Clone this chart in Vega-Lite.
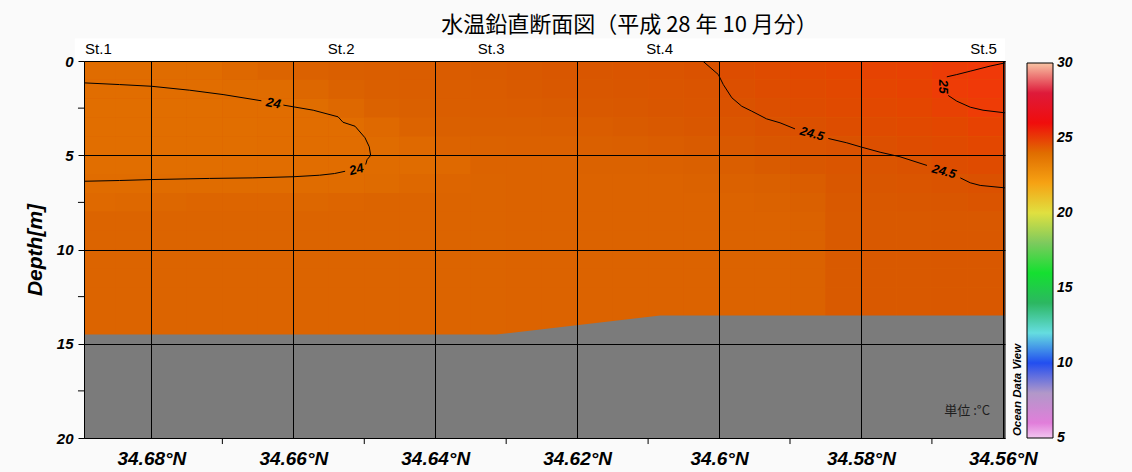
{
"$schema": "https://vega.github.io/schema/vega-lite/v6.json",
"width": 921, "height": 377,
"autosize": {"type": "none"},
"padding": {"left": 84, "top": 61, "right": 127, "bottom": 34},
"background": "#fafafa",
"title": {"text": "水温鉛直断面図（平成 28 年 10 月分）", "font": "Noto Sans CJK JP", "fontSize": 22, "fontWeight": "normal", "color": "#000", "anchor": "middle", "frame": "group", "dx": 85, "dy": 22, "offset": 6.5, "baseline": "alphabetic"},
"config": {"view": {"stroke": null}},
"layer": [
{"data": {"values": [{"lat":34.6895,"d":14.51},{"lat":34.6314,"d":14.51},{"lat":34.6083,"d":13.5},{"lat":34.5597,"d":13.5}]},
 "mark": {"type": "area", "color": "#7b7b7b", "clip": true, "opacity": 0},
 "encoding": {
  "x": {"field": "lat", "type": "quantitative", "title": null, "scale": {"domain": [34.5597, 34.6895], "reverse": true, "nice": false, "zero": false},
        "axis": {"values": [34.56,34.58,34.6,34.62,34.64,34.66,34.68], "title": null,
                 "grid": true, "gridColor": "#000", "gridWidth": 1, "gridOpacity": 1,
                 "ticks": false,
                 "labelExpr": "format(datum.value,'.2~f')+'°N'",
                 "labelFont": "Liberation Sans", "labelFontSize": 19, "labelFontStyle": "italic", "labelFontWeight": "bold", "labelColor": "#000",
                 "labelPadding": 11, "labelOverlap": false, "labelFlush": false, "domain": true, "domainColor": "#000", "domainWidth": 1, "zindex": 1}},
  "y": {"field": "d", "type": "quantitative", "title": "Depth[m]", "scale": {"domain": [0, 20], "reverse": true, "nice": false, "zero": false},
        "axis": {"values": [0,5,10,15,20], "title": "Depth[m]",
                 "titleFont": "Liberation Sans", "titleFontSize": 21, "titleFontStyle": "italic", "titleFontWeight": "bold", "titleColor": "#000", "titlePadding": 11,
                 "grid": true, "gridColor": "#000", "gridWidth": 1, "gridOpacity": 1,
                 "ticks": true, "tickColor": "#000", "tickSize": 6, "tickWidth": 1,
                 "labelFont": "Liberation Sans", "labelFontSize": 15, "labelFontStyle": "italic", "labelFontWeight": "bold", "labelColor": "#000",
                 "labelPadding": 5, "labelOverlap": false, "labelFlush": false, "domain": true, "domainColor": "#000", "domainWidth": 1, "zindex": 1}},
  "y2": {"datum": 20}}},
{"data": {"values": [{}]},
 "mark": {"type": "rect", "color": "#ffffff"},
 "encoding": {
  "x": {"datum": 34.6908, "type": "quantitative", "scale": {"domain": [34.5597, 34.6895], "reverse": true, "nice": false, "zero": false}},
  "x2": {"datum": 34.5597},
  "y": {"datum": -1.2, "type": "quantitative", "scale": {"domain": [0, 20], "reverse": true, "nice": false, "zero": false}},
  "y2": {"datum": 0}}},
{"data": {"values": [{}]},
 "mark": {"type": "rect", "color": "#dc6200", "clip": true},
 "encoding": {
  "x": {"datum": 34.6895, "type": "quantitative", "scale": {"domain": [34.5597, 34.6895], "reverse": true, "nice": false, "zero": false}},
  "x2": {"datum": 34.5597},
  "y": {"datum": 0, "type": "quantitative", "scale": {"domain": [0, 20], "reverse": true, "nice": false, "zero": false}},
  "y2": {"datum": 15}}},
{"data": {"values": [
{"lat":34.6875,"d":0.5,"t":24.02},{"lat":34.6875,"d":1.5,"t":23.97},{"lat":34.6875,"d":2.5,"t":23.94},{"lat":34.6875,"d":3.5,"t":23.93},{"lat":34.6875,"d":4.5,"t":23.93},{"lat":34.6875,"d":5.5,"t":23.94},{"lat":34.6875,"d":6.5,"t":24.02},{"lat":34.6875,"d":7.5,"t":24.06},{"lat":34.6875,"d":8.5,"t":24.1},{"lat":34.6875,"d":9.5,"t":24.1},{"lat":34.6875,"d":10.5,"t":24.1},{"lat":34.6875,"d":11.5,"t":24.1},{"lat":34.6875,"d":12.5,"t":24.1},{"lat":34.6875,"d":13.5,"t":24.1},{"lat":34.6875,"d":14.5,"t":24.1},
{"lat":34.6825,"d":0.5,"t":24.02},{"lat":34.6825,"d":1.5,"t":23.97},{"lat":34.6825,"d":2.5,"t":23.94},{"lat":34.6825,"d":3.5,"t":23.93},{"lat":34.6825,"d":4.5,"t":23.93},{"lat":34.6825,"d":5.5,"t":23.94},{"lat":34.6825,"d":6.5,"t":24.02},{"lat":34.6825,"d":7.5,"t":24.07},{"lat":34.6825,"d":8.5,"t":24.1},{"lat":34.6825,"d":9.5,"t":24.1},{"lat":34.6825,"d":10.5,"t":24.1},{"lat":34.6825,"d":11.5,"t":24.1},{"lat":34.6825,"d":12.5,"t":24.1},{"lat":34.6825,"d":13.5,"t":24.1},{"lat":34.6825,"d":14.5,"t":24.1},
{"lat":34.6775,"d":0.5,"t":24.02},{"lat":34.6775,"d":1.5,"t":23.97},{"lat":34.6775,"d":2.5,"t":23.94},{"lat":34.6775,"d":3.5,"t":23.93},{"lat":34.6775,"d":4.5,"t":23.93},{"lat":34.6775,"d":5.5,"t":23.94},{"lat":34.6775,"d":6.5,"t":24.02},{"lat":34.6775,"d":7.5,"t":24.08},{"lat":34.6775,"d":8.5,"t":24.1},{"lat":34.6775,"d":9.5,"t":24.1},{"lat":34.6775,"d":10.5,"t":24.1},{"lat":34.6775,"d":11.5,"t":24.1},{"lat":34.6775,"d":12.5,"t":24.1},{"lat":34.6775,"d":13.5,"t":24.1},{"lat":34.6775,"d":14.5,"t":24.1},
{"lat":34.6725,"d":0.5,"t":24.03},{"lat":34.6725,"d":1.5,"t":23.98},{"lat":34.6725,"d":2.5,"t":23.95},{"lat":34.6725,"d":3.5,"t":23.94},{"lat":34.6725,"d":4.5,"t":23.94},{"lat":34.6725,"d":5.5,"t":23.95},{"lat":34.6725,"d":6.5,"t":24.02},{"lat":34.6725,"d":7.5,"t":24.09},{"lat":34.6725,"d":8.5,"t":24.1},{"lat":34.6725,"d":9.5,"t":24.1},{"lat":34.6725,"d":10.5,"t":24.1},{"lat":34.6725,"d":11.5,"t":24.1},{"lat":34.6725,"d":12.5,"t":24.1},{"lat":34.6725,"d":13.5,"t":24.1},{"lat":34.6725,"d":14.5,"t":24.1},
{"lat":34.6675,"d":0.5,"t":24.07},{"lat":34.6675,"d":1.5,"t":24.02},{"lat":34.6675,"d":2.5,"t":23.97},{"lat":34.6675,"d":3.5,"t":23.95},{"lat":34.6675,"d":4.5,"t":23.95},{"lat":34.6675,"d":5.5,"t":23.96},{"lat":34.6675,"d":6.5,"t":24.03},{"lat":34.6675,"d":7.5,"t":24.09},{"lat":34.6675,"d":8.5,"t":24.1},{"lat":34.6675,"d":9.5,"t":24.1},{"lat":34.6675,"d":10.5,"t":24.1},{"lat":34.6675,"d":11.5,"t":24.1},{"lat":34.6675,"d":12.5,"t":24.1},{"lat":34.6675,"d":13.5,"t":24.1},{"lat":34.6675,"d":14.5,"t":24.1},
{"lat":34.6625,"d":0.5,"t":24.1},{"lat":34.6625,"d":1.5,"t":24.03},{"lat":34.6625,"d":2.5,"t":23.98},{"lat":34.6625,"d":3.5,"t":23.96},{"lat":34.6625,"d":4.5,"t":23.96},{"lat":34.6625,"d":5.5,"t":23.97},{"lat":34.6625,"d":6.5,"t":24.03},{"lat":34.6625,"d":7.5,"t":24.09},{"lat":34.6625,"d":8.5,"t":24.1},{"lat":34.6625,"d":9.5,"t":24.1},{"lat":34.6625,"d":10.5,"t":24.1},{"lat":34.6625,"d":11.5,"t":24.1},{"lat":34.6625,"d":12.5,"t":24.1},{"lat":34.6625,"d":13.5,"t":24.1},{"lat":34.6625,"d":14.5,"t":24.1},
{"lat":34.6575,"d":0.5,"t":24.18},{"lat":34.6575,"d":1.5,"t":24.08},{"lat":34.6575,"d":2.5,"t":24.01},{"lat":34.6575,"d":3.5,"t":23.98},{"lat":34.6575,"d":4.5,"t":23.97},{"lat":34.6575,"d":5.5,"t":23.97},{"lat":34.6575,"d":6.5,"t":24.03},{"lat":34.6575,"d":7.5,"t":24.08},{"lat":34.6575,"d":8.5,"t":24.1},{"lat":34.6575,"d":9.5,"t":24.1},{"lat":34.6575,"d":10.5,"t":24.1},{"lat":34.6575,"d":11.5,"t":24.1},{"lat":34.6575,"d":12.5,"t":24.1},{"lat":34.6575,"d":13.5,"t":24.1},{"lat":34.6575,"d":14.5,"t":24.1},
{"lat":34.6525,"d":0.5,"t":24.22},{"lat":34.6525,"d":1.5,"t":24.15},{"lat":34.6525,"d":2.5,"t":24.07},{"lat":34.6525,"d":3.5,"t":23.99},{"lat":34.6525,"d":4.5,"t":23.98},{"lat":34.6525,"d":5.5,"t":23.99},{"lat":34.6525,"d":6.5,"t":24.04},{"lat":34.6525,"d":7.5,"t":24.09},{"lat":34.6525,"d":8.5,"t":24.1},{"lat":34.6525,"d":9.5,"t":24.1},{"lat":34.6525,"d":10.5,"t":24.1},{"lat":34.6525,"d":11.5,"t":24.1},{"lat":34.6525,"d":12.5,"t":24.1},{"lat":34.6525,"d":13.5,"t":24.1},{"lat":34.6525,"d":14.5,"t":24.1},
{"lat":34.6475,"d":0.5,"t":24.25},{"lat":34.6475,"d":1.5,"t":24.22},{"lat":34.6475,"d":2.5,"t":24.14},{"lat":34.6475,"d":3.5,"t":24.06},{"lat":34.6475,"d":4.5,"t":24.02},{"lat":34.6475,"d":5.5,"t":24.02},{"lat":34.6475,"d":6.5,"t":24.05},{"lat":34.6475,"d":7.5,"t":24.1},{"lat":34.6475,"d":8.5,"t":24.1},{"lat":34.6475,"d":9.5,"t":24.1},{"lat":34.6475,"d":10.5,"t":24.1},{"lat":34.6475,"d":11.5,"t":24.1},{"lat":34.6475,"d":12.5,"t":24.1},{"lat":34.6475,"d":13.5,"t":24.1},{"lat":34.6475,"d":14.5,"t":24.1},
{"lat":34.6425,"d":0.5,"t":24.27},{"lat":34.6425,"d":1.5,"t":24.25},{"lat":34.6425,"d":2.5,"t":24.2},{"lat":34.6425,"d":3.5,"t":24.13},{"lat":34.6425,"d":4.5,"t":24.06},{"lat":34.6425,"d":5.5,"t":24.03},{"lat":34.6425,"d":6.5,"t":24.07},{"lat":34.6425,"d":7.5,"t":24.1},{"lat":34.6425,"d":8.5,"t":24.11},{"lat":34.6425,"d":9.5,"t":24.11},{"lat":34.6425,"d":10.5,"t":24.11},{"lat":34.6425,"d":11.5,"t":24.11},{"lat":34.6425,"d":12.5,"t":24.11},{"lat":34.6425,"d":13.5,"t":24.11},{"lat":34.6425,"d":14.5,"t":24.11},
{"lat":34.6375,"d":0.5,"t":24.28},{"lat":34.6375,"d":1.5,"t":24.27},{"lat":34.6375,"d":2.5,"t":24.24},{"lat":34.6375,"d":3.5,"t":24.2},{"lat":34.6375,"d":4.5,"t":24.12},{"lat":34.6375,"d":5.5,"t":24.06},{"lat":34.6375,"d":6.5,"t":24.09},{"lat":34.6375,"d":7.5,"t":24.11},{"lat":34.6375,"d":8.5,"t":24.11},{"lat":34.6375,"d":9.5,"t":24.11},{"lat":34.6375,"d":10.5,"t":24.11},{"lat":34.6375,"d":11.5,"t":24.11},{"lat":34.6375,"d":12.5,"t":24.11},{"lat":34.6375,"d":13.5,"t":24.11},{"lat":34.6375,"d":14.5,"t":24.11},
{"lat":34.6325,"d":0.5,"t":24.3},{"lat":34.6325,"d":1.5,"t":24.28},{"lat":34.6325,"d":2.5,"t":24.26},{"lat":34.6325,"d":3.5,"t":24.22},{"lat":34.6325,"d":4.5,"t":24.16},{"lat":34.6325,"d":5.5,"t":24.12},{"lat":34.6325,"d":6.5,"t":24.11},{"lat":34.6325,"d":7.5,"t":24.11},{"lat":34.6325,"d":8.5,"t":24.11},{"lat":34.6325,"d":9.5,"t":24.11},{"lat":34.6325,"d":10.5,"t":24.11},{"lat":34.6325,"d":11.5,"t":24.11},{"lat":34.6325,"d":12.5,"t":24.11},{"lat":34.6325,"d":13.5,"t":24.11},{"lat":34.6325,"d":14.5,"t":24.11},
{"lat":34.6275,"d":0.5,"t":24.35},{"lat":34.6275,"d":1.5,"t":24.33},{"lat":34.6275,"d":2.5,"t":24.28},{"lat":34.6275,"d":3.5,"t":24.23},{"lat":34.6275,"d":4.5,"t":24.17},{"lat":34.6275,"d":5.5,"t":24.13},{"lat":34.6275,"d":6.5,"t":24.12},{"lat":34.6275,"d":7.5,"t":24.12},{"lat":34.6275,"d":8.5,"t":24.12},{"lat":34.6275,"d":9.5,"t":24.12},{"lat":34.6275,"d":10.5,"t":24.12},{"lat":34.6275,"d":11.5,"t":24.12},{"lat":34.6275,"d":12.5,"t":24.12},{"lat":34.6275,"d":13.5,"t":24.12},{"lat":34.6275,"d":14.5,"t":24.12},
{"lat":34.6225,"d":0.5,"t":24.38},{"lat":34.6225,"d":1.5,"t":24.36},{"lat":34.6225,"d":2.5,"t":24.3},{"lat":34.6225,"d":3.5,"t":24.24},{"lat":34.6225,"d":4.5,"t":24.18},{"lat":34.6225,"d":5.5,"t":24.13},{"lat":34.6225,"d":6.5,"t":24.12},{"lat":34.6225,"d":7.5,"t":24.12},{"lat":34.6225,"d":8.5,"t":24.12},{"lat":34.6225,"d":9.5,"t":24.12},{"lat":34.6225,"d":10.5,"t":24.12},{"lat":34.6225,"d":11.5,"t":24.12},{"lat":34.6225,"d":12.5,"t":24.12},{"lat":34.6225,"d":13.5,"t":24.12},{"lat":34.6225,"d":14.5,"t":24.12},
{"lat":34.6175,"d":0.5,"t":24.4},{"lat":34.6175,"d":1.5,"t":24.38},{"lat":34.6175,"d":2.5,"t":24.34},{"lat":34.6175,"d":3.5,"t":24.27},{"lat":34.6175,"d":4.5,"t":24.2},{"lat":34.6175,"d":5.5,"t":24.14},{"lat":34.6175,"d":6.5,"t":24.12},{"lat":34.6175,"d":7.5,"t":24.12},{"lat":34.6175,"d":8.5,"t":24.12},{"lat":34.6175,"d":9.5,"t":24.12},{"lat":34.6175,"d":10.5,"t":24.12},{"lat":34.6175,"d":11.5,"t":24.12},{"lat":34.6175,"d":12.5,"t":24.12},{"lat":34.6175,"d":13.5,"t":24.12},{"lat":34.6175,"d":14.5,"t":24.12},
{"lat":34.6125,"d":0.5,"t":24.42},{"lat":34.6125,"d":1.5,"t":24.4},{"lat":34.6125,"d":2.5,"t":24.37},{"lat":34.6125,"d":3.5,"t":24.31},{"lat":34.6125,"d":4.5,"t":24.22},{"lat":34.6125,"d":5.5,"t":24.15},{"lat":34.6125,"d":6.5,"t":24.12},{"lat":34.6125,"d":7.5,"t":24.12},{"lat":34.6125,"d":8.5,"t":24.12},{"lat":34.6125,"d":9.5,"t":24.12},{"lat":34.6125,"d":10.5,"t":24.12},{"lat":34.6125,"d":11.5,"t":24.12},{"lat":34.6125,"d":12.5,"t":24.12},{"lat":34.6125,"d":13.5,"t":24.12},{"lat":34.6125,"d":14.5,"t":24.12},
{"lat":34.6075,"d":0.5,"t":24.45},{"lat":34.6075,"d":1.5,"t":24.42},{"lat":34.6075,"d":2.5,"t":24.4},{"lat":34.6075,"d":3.5,"t":24.35},{"lat":34.6075,"d":4.5,"t":24.26},{"lat":34.6075,"d":5.5,"t":24.17},{"lat":34.6075,"d":6.5,"t":24.13},{"lat":34.6075,"d":7.5,"t":24.12},{"lat":34.6075,"d":8.5,"t":24.12},{"lat":34.6075,"d":9.5,"t":24.12},{"lat":34.6075,"d":10.5,"t":24.12},{"lat":34.6075,"d":11.5,"t":24.12},{"lat":34.6075,"d":12.5,"t":24.12},{"lat":34.6075,"d":13.5,"t":24.12},{"lat":34.6075,"d":14.5,"t":24.12},
{"lat":34.6025,"d":0.5,"t":24.49},{"lat":34.6025,"d":1.5,"t":24.45},{"lat":34.6025,"d":2.5,"t":24.42},{"lat":34.6025,"d":3.5,"t":24.38},{"lat":34.6025,"d":4.5,"t":24.3},{"lat":34.6025,"d":5.5,"t":24.2},{"lat":34.6025,"d":6.5,"t":24.15},{"lat":34.6025,"d":7.5,"t":24.12},{"lat":34.6025,"d":8.5,"t":24.12},{"lat":34.6025,"d":9.5,"t":24.12},{"lat":34.6025,"d":10.5,"t":24.12},{"lat":34.6025,"d":11.5,"t":24.12},{"lat":34.6025,"d":12.5,"t":24.12},{"lat":34.6025,"d":13.5,"t":24.12},{"lat":34.6025,"d":14.5,"t":24.12},
{"lat":34.5975,"d":0.5,"t":24.58},{"lat":34.5975,"d":1.5,"t":24.54},{"lat":34.5975,"d":2.5,"t":24.48},{"lat":34.5975,"d":3.5,"t":24.42},{"lat":34.5975,"d":4.5,"t":24.35},{"lat":34.5975,"d":5.5,"t":24.25},{"lat":34.5975,"d":6.5,"t":24.17},{"lat":34.5975,"d":7.5,"t":24.13},{"lat":34.5975,"d":8.5,"t":24.12},{"lat":34.5975,"d":9.5,"t":24.12},{"lat":34.5975,"d":10.5,"t":24.12},{"lat":34.5975,"d":11.5,"t":24.12},{"lat":34.5975,"d":12.5,"t":24.12},{"lat":34.5975,"d":13.5,"t":24.12},{"lat":34.5975,"d":14.5,"t":24.12},
{"lat":34.5925,"d":0.5,"t":24.64},{"lat":34.5925,"d":1.5,"t":24.6},{"lat":34.5925,"d":2.5,"t":24.55},{"lat":34.5925,"d":3.5,"t":24.49},{"lat":34.5925,"d":4.5,"t":24.4},{"lat":34.5925,"d":5.5,"t":24.3},{"lat":34.5925,"d":6.5,"t":24.2},{"lat":34.5925,"d":7.5,"t":24.15},{"lat":34.5925,"d":8.5,"t":24.13},{"lat":34.5925,"d":9.5,"t":24.13},{"lat":34.5925,"d":10.5,"t":24.13},{"lat":34.5925,"d":11.5,"t":24.13},{"lat":34.5925,"d":12.5,"t":24.13},{"lat":34.5925,"d":13.5,"t":24.13},{"lat":34.5925,"d":14.5,"t":24.13},
{"lat":34.5875,"d":0.5,"t":24.72},{"lat":34.5875,"d":1.5,"t":24.67},{"lat":34.5875,"d":2.5,"t":24.6},{"lat":34.5875,"d":3.5,"t":24.52},{"lat":34.5875,"d":4.5,"t":24.45},{"lat":34.5875,"d":5.5,"t":24.38},{"lat":34.5875,"d":6.5,"t":24.26},{"lat":34.5875,"d":7.5,"t":24.2},{"lat":34.5875,"d":8.5,"t":24.15},{"lat":34.5875,"d":9.5,"t":24.15},{"lat":34.5875,"d":10.5,"t":24.15},{"lat":34.5875,"d":11.5,"t":24.15},{"lat":34.5875,"d":12.5,"t":24.15},{"lat":34.5875,"d":13.5,"t":24.15},{"lat":34.5875,"d":14.5,"t":24.15},
{"lat":34.5825,"d":0.5,"t":24.8},{"lat":34.5825,"d":1.5,"t":24.74},{"lat":34.5825,"d":2.5,"t":24.66},{"lat":34.5825,"d":3.5,"t":24.58},{"lat":34.5825,"d":4.5,"t":24.48},{"lat":34.5825,"d":5.5,"t":24.42},{"lat":34.5825,"d":6.5,"t":24.38},{"lat":34.5825,"d":7.5,"t":24.35},{"lat":34.5825,"d":8.5,"t":24.33},{"lat":34.5825,"d":9.5,"t":24.32},{"lat":34.5825,"d":10.5,"t":24.32},{"lat":34.5825,"d":11.5,"t":24.32},{"lat":34.5825,"d":12.5,"t":24.32},{"lat":34.5825,"d":13.5,"t":24.32},{"lat":34.5825,"d":14.5,"t":24.32},
{"lat":34.5775,"d":0.5,"t":24.86},{"lat":34.5775,"d":1.5,"t":24.82},{"lat":34.5775,"d":2.5,"t":24.74},{"lat":34.5775,"d":3.5,"t":24.64},{"lat":34.5775,"d":4.5,"t":24.53},{"lat":34.5775,"d":5.5,"t":24.45},{"lat":34.5775,"d":6.5,"t":24.4},{"lat":34.5775,"d":7.5,"t":24.36},{"lat":34.5775,"d":8.5,"t":24.34},{"lat":34.5775,"d":9.5,"t":24.34},{"lat":34.5775,"d":10.5,"t":24.34},{"lat":34.5775,"d":11.5,"t":24.34},{"lat":34.5775,"d":12.5,"t":24.34},{"lat":34.5775,"d":13.5,"t":24.34},{"lat":34.5775,"d":14.5,"t":24.34},
{"lat":34.5725,"d":0.5,"t":24.9},{"lat":34.5725,"d":1.5,"t":24.88},{"lat":34.5725,"d":2.5,"t":24.8},{"lat":34.5725,"d":3.5,"t":24.7},{"lat":34.5725,"d":4.5,"t":24.6},{"lat":34.5725,"d":5.5,"t":24.49},{"lat":34.5725,"d":6.5,"t":24.43},{"lat":34.5725,"d":7.5,"t":24.38},{"lat":34.5725,"d":8.5,"t":24.35},{"lat":34.5725,"d":9.5,"t":24.35},{"lat":34.5725,"d":10.5,"t":24.35},{"lat":34.5725,"d":11.5,"t":24.35},{"lat":34.5725,"d":12.5,"t":24.35},{"lat":34.5725,"d":13.5,"t":24.35},{"lat":34.5725,"d":14.5,"t":24.35},
{"lat":34.5675,"d":0.5,"t":24.99},{"lat":34.5675,"d":1.5,"t":25.01},{"lat":34.5675,"d":2.5,"t":24.9},{"lat":34.5675,"d":3.5,"t":24.78},{"lat":34.5675,"d":4.5,"t":24.68},{"lat":34.5675,"d":5.5,"t":24.58},{"lat":34.5675,"d":6.5,"t":24.47},{"lat":34.5675,"d":7.5,"t":24.4},{"lat":34.5675,"d":8.5,"t":24.36},{"lat":34.5675,"d":9.5,"t":24.36},{"lat":34.5675,"d":10.5,"t":24.36},{"lat":34.5675,"d":11.5,"t":24.36},{"lat":34.5675,"d":12.5,"t":24.36},{"lat":34.5675,"d":13.5,"t":24.36},{"lat":34.5675,"d":14.5,"t":24.36},
{"lat":34.5625,"d":0.5,"t":25.06},{"lat":34.5625,"d":1.5,"t":25.06},{"lat":34.5625,"d":2.5,"t":25.01},{"lat":34.5625,"d":3.5,"t":24.88},{"lat":34.5625,"d":4.5,"t":24.76},{"lat":34.5625,"d":5.5,"t":24.65},{"lat":34.5625,"d":6.5,"t":24.5},{"lat":34.5625,"d":7.5,"t":24.44},{"lat":34.5625,"d":8.5,"t":24.37},{"lat":34.5625,"d":9.5,"t":24.37},{"lat":34.5625,"d":10.5,"t":24.37},{"lat":34.5625,"d":11.5,"t":24.37},{"lat":34.5625,"d":12.5,"t":24.37},{"lat":34.5625,"d":13.5,"t":24.37},{"lat":34.5625,"d":14.5,"t":24.37},
{"lat":34.5575,"d":0.5,"t":25.08},{"lat":34.5575,"d":1.5,"t":25.08},{"lat":34.5575,"d":2.5,"t":25.03},{"lat":34.5575,"d":3.5,"t":24.9},{"lat":34.5575,"d":4.5,"t":24.78},{"lat":34.5575,"d":5.5,"t":24.67},{"lat":34.5575,"d":6.5,"t":24.52},{"lat":34.5575,"d":7.5,"t":24.45},{"lat":34.5575,"d":8.5,"t":24.38},{"lat":34.5575,"d":9.5,"t":24.38},{"lat":34.5575,"d":10.5,"t":24.38},{"lat":34.5575,"d":11.5,"t":24.38},{"lat":34.5575,"d":12.5,"t":24.38},{"lat":34.5575,"d":13.5,"t":24.38},{"lat":34.5575,"d":14.5,"t":24.38}
]},
 "transform": [
  {"bin": {"step": 0.005, "anchor": 34.555, "extent": [34.555, 34.695]}, "field": "lat", "as": ["lat0", "lat1"]},
  {"bin": {"step": 1, "anchor": 0, "extent": [0, 16]}, "field": "d", "as": ["d0", "d1"]}
 ],
 "mark": {"type": "rect", "clip": true},
 "encoding": {
  "x": {"field": "lat0", "type": "quantitative", "scale": {"domain": [34.5597, 34.6895], "reverse": true, "nice": false, "zero": false}},
  "x2": {"field": "lat1"},
  "y": {"field": "d0", "type": "quantitative", "scale": {"domain": [0, 20], "reverse": true, "nice": false, "zero": false}},
  "y2": {"field": "d1"},
  "color": {"field": "t", "type": "quantitative",
        "scale": {"interpolate": "rgb",
                  "domain": [5,5.8,6.6,7.4,8.2,9,9.8,10.6,11.4,12.3,13.3,14.3,15.3,16.4,17.4,18.4,19.3,20,20.8,21.8,22.8,23.5,24.04,24.1,24.22,24.35,24.48,24.6,24.8,24.95,25.05,25.6,26.5,27.2,28.2,28.8,29.5,30],
                  "range": ["#f2c6f0","#e490e0","#d848c8","#cc80c0","#a8a0cc","#7070dc","#2040f0","#2878f0","#50b8f0","#70f0d8","#48c888","#20b050","#00e030","#20e030","#60c050","#90d068","#c0f050","#e0e040","#f8c030","#f8a818","#f08800","#e67600","#e06c00","#dc6400","#da5f00","#d95900","#da5200","#de4c00","#e44600","#ea3e04","#f03a08","#f01808","#f00010","#d80020","#e02040","#f07070","#f8a088","#f8c4a4"]},
        "legend": {"orient": "none", "legendX": 943, "legendY": 2, "direction": "vertical", "gradientLength": 375, "gradientThickness": 26,
                   "values": [5,10,15,20,25,30], "title": null, "padding": 0,
                   "labelFont": "Liberation Sans", "labelFontSize": 14, "labelFontStyle": "italic", "labelFontWeight": "bold", "labelColor": "#000", "labelOffset": 4,
                   "gradientStrokeColor": "#000", "gradientStrokeWidth": 1, "labelOverlap": false,
                   "encode": {"labels": {"update": {"baseline": {"value": "middle"}}}}}}}},
{"data": {"values": [{"lat":34.6895,"d":14.51},{"lat":34.6314,"d":14.51},{"lat":34.6083,"d":13.5},{"lat":34.5597,"d":13.5}]},
 "mark": {"type": "area", "color": "#7b7b7b", "clip": true},
 "encoding": {
  "x": {"field": "lat", "type": "quantitative", "scale": {"domain": [34.5597, 34.6895], "reverse": true, "nice": false, "zero": false}},
  "y": {"field": "d", "type": "quantitative", "scale": {"domain": [0, 20], "reverse": true, "nice": false, "zero": false}},
  "y2": {"datum": 20}}},
{"data": {"values": [{"lat":34.57},{"lat":34.59},{"lat":34.61},{"lat":34.63},{"lat":34.65},{"lat":34.67}]},
 "mark": {"type": "rule", "color": "#000", "strokeWidth": 1},
 "encoding": {
  "x": {"field": "lat", "type": "quantitative", "scale": {"domain": [34.5597, 34.6895], "reverse": true, "nice": false, "zero": false}},
  "y": {"datum": 20, "type": "quantitative", "scale": {"domain": [0, 20], "reverse": true, "nice": false, "zero": false}},
  "y2": {"datum": 20.32}}},
{"data": {"values": [{"d":2.5},{"d":7.5},{"d":12.5},{"d":17.5}]},
 "mark": {"type": "rule", "color": "#000", "strokeWidth": 1},
 "encoding": {
  "x": {"datum": 34.6895, "type": "quantitative", "scale": {"domain": [34.5597, 34.6895], "reverse": true, "nice": false, "zero": false}},
  "x2": {"datum": 34.69035},
  "y": {"field": "d", "type": "quantitative", "scale": {"domain": [0, 20], "reverse": true, "nice": false, "zero": false}}}},
{"data": {"values": [
{"s":"a1","i":0,"lat":34.6895,"d":1.16},{"s":"a1","i":1,"lat":34.6845,"d":1.25},{"s":"a1","i":2,"lat":34.68,"d":1.34},{"s":"a1","i":3,"lat":34.6746,"d":1.55},{"s":"a1","i":4,"lat":34.6699,"d":1.78},{"s":"a1","i":5,"lat":34.6645,"d":2.11},
{"s":"a2","i":0,"lat":34.6614,"d":2.34},{"s":"a2","i":1,"lat":34.66,"d":2.43},{"s":"a2","i":2,"lat":34.6572,"d":2.61},{"s":"a2","i":3,"lat":34.6537,"d":2.96},{"s":"a2","i":4,"lat":34.653,"d":3.25},{"s":"a2","i":5,"lat":34.6513,"d":3.46},{"s":"a2","i":6,"lat":34.6499,"d":4.07},{"s":"a2","i":7,"lat":34.6493,"d":4.55},{"s":"a2","i":8,"lat":34.6491,"d":5.01},{"s":"a2","i":9,"lat":34.6496,"d":5.23},{"s":"a2","i":10,"lat":34.6498,"d":5.49},
{"s":"a3","i":0,"lat":34.6527,"d":5.85},{"s":"a3","i":1,"lat":34.6542,"d":5.97},{"s":"a3","i":2,"lat":34.6563,"d":6.06},{"s":"a3","i":3,"lat":34.66,"d":6.14},{"s":"a3","i":4,"lat":34.6657,"d":6.2},{"s":"a3","i":5,"lat":34.6718,"d":6.23},{"s":"a3","i":6,"lat":34.68,"d":6.29},{"s":"a3","i":7,"lat":34.6845,"d":6.34},{"s":"a3","i":8,"lat":34.6895,"d":6.38},
{"s":"b1","i":0,"lat":34.6023,"d":0},{"s":"b1","i":1,"lat":34.6001,"d":0.72},{"s":"b1","i":2,"lat":34.5994,"d":1.25},{"s":"b1","i":3,"lat":34.5982,"d":1.95},{"s":"b1","i":4,"lat":34.5968,"d":2.4},{"s":"b1","i":5,"lat":34.5954,"d":2.66},{"s":"b1","i":6,"lat":34.5933,"d":3.07},{"s":"b1","i":7,"lat":34.5914,"d":3.28},{"s":"b1","i":8,"lat":34.5893,"d":3.6},
{"s":"b2","i":0,"lat":34.5846,"d":4.11},{"s":"b2","i":1,"lat":34.582,"d":4.34},{"s":"b2","i":2,"lat":34.5801,"d":4.55},{"s":"b2","i":3,"lat":34.5773,"d":4.84},{"s":"b2","i":4,"lat":34.5745,"d":5.08},{"s":"b2","i":5,"lat":34.5707,"d":5.54},
{"s":"b3","i":0,"lat":34.566,"d":6.2},{"s":"b3","i":1,"lat":34.5646,"d":6.46},{"s":"b3","i":2,"lat":34.5632,"d":6.6},{"s":"b3","i":3,"lat":34.5597,"d":6.73},
{"s":"c1","i":0,"lat":34.5597,"d":0.1},{"s":"c1","i":1,"lat":34.5618,"d":0.27},{"s":"c1","i":2,"lat":34.5646,"d":0.54},{"s":"c1","i":3,"lat":34.5665,"d":0.72},{"s":"c1","i":4,"lat":34.5679,"d":0.84},
{"s":"c2","i":0,"lat":34.5677,"d":1.83},{"s":"c2","i":1,"lat":34.5665,"d":2.13},{"s":"c2","i":2,"lat":34.5646,"d":2.45},{"s":"c2","i":3,"lat":34.5628,"d":2.61},{"s":"c2","i":4,"lat":34.5597,"d":2.75}
]},
 "mark": {"type": "line", "color": "#000", "strokeWidth": 1, "clip": true},
 "encoding": {
  "x": {"field": "lat", "type": "quantitative", "scale": {"domain": [34.5597, 34.6895], "reverse": true, "nice": false, "zero": false}},
  "y": {"field": "d", "type": "quantitative", "scale": {"domain": [0, 20], "reverse": true, "nice": false, "zero": false}},
  "detail": {"field": "s"},
  "order": {"field": "i", "type": "quantitative"}}},
{"data": {"values": [{"lab":"24","lat":34.6628,"d":2.25}]},
 "mark": {"type": "text", "font": "Liberation Sans", "fontSize": 13, "fontStyle": "italic", "fontWeight": "bold", "color": "#000", "angle": 11, "align": "center", "baseline": "middle"},
 "encoding": {
  "x": {"field": "lat", "type": "quantitative", "scale": {"domain": [34.5597, 34.6895], "reverse": true, "nice": false, "zero": false}},
  "y": {"field": "d", "type": "quantitative", "scale": {"domain": [0, 20], "reverse": true, "nice": false, "zero": false}},
  "text": {"field": "lab"}}},
{"data": {"values": [{"lab":"24","lat":34.6511,"d":5.76}]},
 "mark": {"type": "text", "font": "Liberation Sans", "fontSize": 13, "fontStyle": "italic", "fontWeight": "bold", "color": "#000", "angle": -15, "align": "center", "baseline": "middle"},
 "encoding": {
  "x": {"field": "lat", "type": "quantitative", "scale": {"domain": [34.5597, 34.6895], "reverse": true, "nice": false, "zero": false}},
  "y": {"field": "d", "type": "quantitative", "scale": {"domain": [0, 20], "reverse": true, "nice": false, "zero": false}},
  "text": {"field": "lab"}}},
{"data": {"values": [{"lab":"24.5","lat":34.5869,"d":3.86},{"lab":"24.5","lat":34.5683,"d":5.86}]},
 "mark": {"type": "text", "font": "Liberation Sans", "fontSize": 12.5, "fontStyle": "italic", "fontWeight": "bold", "color": "#000", "angle": 15, "align": "center", "baseline": "middle"},
 "encoding": {
  "x": {"field": "lat", "type": "quantitative", "scale": {"domain": [34.5597, 34.6895], "reverse": true, "nice": false, "zero": false}},
  "y": {"field": "d", "type": "quantitative", "scale": {"domain": [0, 20], "reverse": true, "nice": false, "zero": false}},
  "text": {"field": "lab"}}},
{"data": {"values": [{"lab":"25","lat":34.56845,"d":1.37}]},
 "mark": {"type": "text", "font": "Liberation Sans", "fontSize": 12.5, "fontStyle": "italic", "fontWeight": "bold", "color": "#000", "angle": 90, "align": "center", "baseline": "middle"},
 "encoding": {
  "x": {"field": "lat", "type": "quantitative", "scale": {"domain": [34.5597, 34.6895], "reverse": true, "nice": false, "zero": false}},
  "y": {"field": "d", "type": "quantitative", "scale": {"domain": [0, 20], "reverse": true, "nice": false, "zero": false}},
  "text": {"field": "lab"}}},
{"data": {"values": [{"st":"St.1","lat":34.68747},{"st":"St.2","lat":34.65326},{"st":"St.3","lat":34.63211},{"st":"St.4","lat":34.60837},{"st":"St.5","lat":34.56272}]},
 "mark": {"type": "text", "font": "Liberation Sans", "fontSize": 15, "color": "#000", "align": "center", "baseline": "alphabetic"},
 "encoding": {
  "x": {"field": "lat", "type": "quantitative", "scale": {"domain": [34.5597, 34.6895], "reverse": true, "nice": false, "zero": false}},
  "y": {"datum": -0.37, "type": "quantitative", "scale": {"domain": [0, 20], "reverse": true, "nice": false, "zero": false}},
  "text": {"field": "st"}}},
{"data": {"values": [{"lab":"単位 :°C","lat":34.56182,"d":18.57}]},
 "mark": {"type": "text", "font": "Noto Sans CJK JP", "fontSize": 13, "color": "#1e1e1e", "align": "right", "baseline": "middle"},
 "encoding": {
  "x": {"field": "lat", "type": "quantitative", "scale": {"domain": [34.5597, 34.6895], "reverse": true, "nice": false, "zero": false}},
  "y": {"field": "d", "type": "quantitative", "scale": {"domain": [0, 20], "reverse": true, "nice": false, "zero": false}},
  "text": {"field": "lab"}}},
{"data": {"values": [{"lab":"Ocean Data View","lat":34.55787,"d":19.9}]},
 "mark": {"type": "text", "font": "Liberation Sans", "fontSize": 11.5, "fontStyle": "italic", "fontWeight": "bold", "color": "#000", "angle": 270, "align": "left", "baseline": "middle"},
 "encoding": {
  "x": {"field": "lat", "type": "quantitative", "scale": {"domain": [34.5597, 34.6895], "reverse": true, "nice": false, "zero": false}},
  "y": {"field": "d", "type": "quantitative", "scale": {"domain": [0, 20], "reverse": true, "nice": false, "zero": false}},
  "text": {"field": "lab"}}},
{"data": {"values": [{}]},
 "mark": {"type": "rule", "color": "#000", "strokeWidth": 1},
 "encoding": {
  "x": {"datum": 34.5597, "type": "quantitative", "scale": {"domain": [34.5597, 34.6895], "reverse": true, "nice": false, "zero": false}}}}
]
}
